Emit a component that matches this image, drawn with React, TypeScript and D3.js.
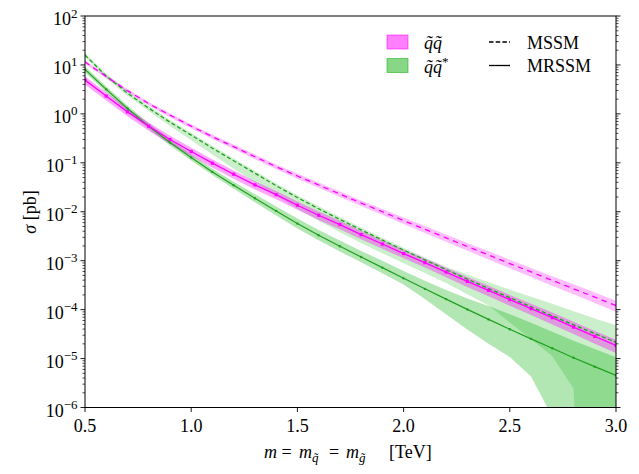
import * as d3 from 'd3';

// squark masses m = m_sq = m_gluino [TeV]
const masses = [0.5, 0.6, 0.7, 0.8, 0.9, 1.0, 1.1, 1.2, 1.3, 1.4, 1.5, 1.6, 1.7, 1.8, 1.9, 2.0, 2.1, 2.2, 2.3, 2.4, 2.5, 2.6, 2.7, 2.8, 2.9, 3.0];

// cross sections [pb]
const mssmSqSq = [11.5, 5.78, 2.99, 1.62, 0.943, 0.561, 0.342, 0.214, 0.133, 0.0833, 0.0538, 0.0352, 0.023, 0.0151, 0.01, 0.00661, 0.00439, 0.00292, 0.00195, 0.00131, 8.75e-4, 5.89e-4, 3.96e-4, 2.67e-4, 1.8e-4, 1.21e-4];
const mrssmSqSq = [4.9, 2.31, 1.1, 0.561, 0.3, 0.17, 0.0983, 0.0585, 0.0353, 0.0223, 0.0136, 0.00848, 0.00547, 0.00341, 0.00219, 0.0014, 9.14e-4, 5.86e-4, 3.78e-4, 2.48e-4, 1.6e-4, 1.05e-4, 6.84e-5, 4.4e-5, 2.84e-5, 1.86e-5];
const mssmSqSqbar = [15.9, 5.92, 2.66, 1.31, 0.678, 0.368, 0.199, 0.11, 0.0613, 0.034, 0.0195, 0.0115, 0.00696, 0.00426, 0.00264, 0.00165, 0.00104, 6.57e-4, 4.2e-4, 2.7e-4, 1.75e-4, 1.14e-4, 7.45e-5, 4.9e-5, 3.24e-5, 2.15e-5];
const mrssmSqSqbar = [8.12, 3.16, 1.29, 0.561, 0.261, 0.128, 0.0652, 0.0349, 0.0189, 0.0104, 0.00573, 0.0033, 0.00197, 0.00119, 7.21e-4, 4.36e-4, 2.66e-4, 1.64e-4, 1.01e-4, 6.31e-5, 3.98e-5, 2.53e-5, 1.62e-5, 1.04e-5, 6.84e-6, 4.52e-6];

// relative uncertainties [%]
const mssmSqSqErr = [8, 8, 8, 8, 9, 9, 10, 10, 11, 11, 12, 12, 13, 13, 14, 15, 16, 17, 18, 19, 20, 21, 22, 23, 24, 25];
const mrssmSqSqErr = [19, 19, 19, 19, 19, 19, 19, 19, 19, 19, 19, 20, 20, 20, 20, 20, 21, 22, 23, 24, 25, 26, 27, 28, 29, 30];
const mssmSqSqbarUp = [10, 10, 10, 10, 10, 10, 11, 11, 11, 11, 11, 12, 12, 12, 12, 12, 12, 15, 24, 34, 46, 60, 76, 89, 103, 123];
const mssmSqSqbarDown = [9, 10, 12, 13, 17, 21, 26, 31, 35, 38, 41, 43, 45, 46, 46, 46, 46, 47, 51, 55, 69, 78, 85, 95, 100, 100];
const mrssmSqSqbarUp = [15, 15, 15, 15, 15, 15, 16, 18, 20, 23, 27, 29, 31, 33, 38, 42, 46, 53, 68, 89, 103, 113, 118, 123, 128, 134];
const mrssmSqSqbarDown = [13, 13, 13, 13, 13, 13, 14, 15, 17, 19, 21, 21, 22, 22, 23, 25, 38, 51, 61, 68, 73, 83, 96, 100, 100, 100];

const xTicks = [0.5, 1.0, 1.5, 2.0, 2.5, 3.0];
const yExponents = [-6, -5, -4, -3, -2, -1, 0, 1, 2];

const width = 639;
const height = 474;
const plot = { left: 85, right: 616, top: 16, bottom: 407.5 };
const MAGENTA = '#ff00ff';
const GREEN_LINE = '#1fa01f';
const GREEN_FILL = '#10b010';
const FONT = '"Liberation Serif", "DejaVu Serif", serif';
const TILDE = '\u0303';

const App = () => {
  const x = d3.scaleLinear().domain([0.5, 3.0]).range([plot.left, plot.right]);
  const y = d3.scaleLog().domain([1e-6, 1e2]).range([plot.bottom, plot.top]);
  // zero lower edges go far below the axis
  const floor = (v: number) => Math.max(v, 1e-15);

  const band = (central: number[], up: number[], down: number[]) =>
    d3
      .area<number>()
      .x((_, i) => x(masses[i]))
      .y0((c, i) => y(floor(c * (1 - down[i] / 100))))
      .y1((c, i) => y(c * (1 + up[i] / 100)))(central) || '';

  const line = (vals: number[]) =>
    d3
      .line<number>()
      .x((_, i) => x(masses[i]))
      .y((v) => y(v))(vals) || '';

  const minorTicks: number[] = [];
  yExponents.slice(0, -1).forEach((e) => {
    for (let k = 2; k <= 9; k++) minorTicks.push(k * Math.pow(10, e));
  });

  return (
    <svg
      width={width}
      height={height}
      style={{ position: 'absolute', left: 0, top: 0, background: '#fff' }}
      fontFamily={FONT}
    >
      <defs>
        <clipPath id="plot-clip">
          <rect x={plot.left} y={plot.top} width={plot.right - plot.left} height={plot.bottom - plot.top} />
        </clipPath>
      </defs>

      <g clipPath="url(#plot-clip)">
        {/* uncertainty bands */}
        <path d={band(mssmSqSqbar, mssmSqSqbarUp, mssmSqSqbarDown)} fill={GREEN_FILL} fillOpacity={0.22} />
        <path d={band(mrssmSqSqbar, mrssmSqSqbarUp, mrssmSqSqbarDown)} fill={GREEN_FILL} fillOpacity={0.32} />
        <path d={band(mssmSqSq, mssmSqSqErr, mssmSqSqErr)} fill={MAGENTA} fillOpacity={0.25} />
        <path d={band(mrssmSqSq, mrssmSqSqErr, mrssmSqSqErr)} fill={MAGENTA} fillOpacity={0.35} />

        {/* central values */}
        <path d={line(mrssmSqSqbar)} fill="none" stroke={GREEN_LINE} strokeWidth={1.2} />
        <path d={line(mrssmSqSq)} fill="none" stroke={MAGENTA} strokeWidth={1.3} />
        <path d={line(mssmSqSqbar)} fill="none" stroke={GREEN_LINE} strokeWidth={1.3} strokeDasharray="4,2.5" />
        <path d={line(mssmSqSq)} fill="none" stroke={MAGENTA} strokeWidth={1.3} strokeDasharray="5.5,4.5" />

        {mrssmSqSqbar.map((v, i) => (
          <circle key={`g${i}`} cx={x(masses[i])} cy={y(v)} r={1.2} fill={GREEN_LINE} />
        ))}
        {mrssmSqSq.map((v, i) => (
          <rect key={`m${i}`} x={x(masses[i]) - 1.6} y={y(v) - 1.6} width={3.2} height={3.2} fill={MAGENTA} />
        ))}
      </g>

      {/* y ticks, both sides */}
      {yExponents.map((e) => {
        const yy = y(Math.pow(10, e));
        return (
          <g key={`ye${e}`}>
            <line x1={plot.left - 4.5} x2={plot.left} y1={yy} y2={yy} stroke="#000" strokeWidth={0.9} />
            <line x1={plot.right} x2={plot.right + 4.5} y1={yy} y2={yy} stroke="#000" strokeWidth={0.9} />
            <text x={plot.left - 7.5} y={yy + 9} textAnchor="end" fontSize={18}>
              10
              <tspan dy={-7.5} fontSize={13}>
                {e < 0 ? `\u2212${-e}` : `${e}`}
              </tspan>
            </text>
          </g>
        );
      })}
      {minorTicks.map((v, i) => {
        const yy = y(v);
        return (
          <g key={`ym${i}`}>
            <line x1={plot.left - 2.5} x2={plot.left} y1={yy} y2={yy} stroke="#000" strokeWidth={0.7} />
            <line x1={plot.right} x2={plot.right + 2.5} y1={yy} y2={yy} stroke="#000" strokeWidth={0.7} />
          </g>
        );
      })}

      {/* x ticks */}
      {xTicks.map((t) => (
        <g key={`x${t}`}>
          <line x1={x(t)} x2={x(t)} y1={plot.bottom} y2={plot.bottom + 4.5} stroke="#000" strokeWidth={0.9} />
          <text x={x(t)} y={432} textAnchor="middle" fontSize={18}>
            {t.toFixed(1)}
          </text>
        </g>
      ))}

      <rect
        x={plot.left}
        y={plot.top}
        width={plot.right - plot.left}
        height={plot.bottom - plot.top}
        fill="none"
        stroke="#000"
        strokeWidth={1}
      />

      {/* axis labels */}
      <text fontSize={18} y={458}>
        <tspan x={264} fontStyle="italic">m</tspan>
        <tspan x={281.5}>=</tspan>
        <tspan x={299} fontStyle="italic">m</tspan>
        <tspan x={312} dy={4} fontSize={13} fontStyle="italic">{`q${TILDE}`}</tspan>
        <tspan x={329} dy={-4}>=</tspan>
        <tspan x={346} fontStyle="italic">m</tspan>
        <tspan x={359} dy={4} fontSize={13} fontStyle="italic">{`g${TILDE}`}</tspan>
        <tspan x={389} dy={-4}>[TeV]</tspan>
      </text>
      <text fontSize={18} transform={`translate(36, 212) rotate(-90)`} textAnchor="middle">
        <tspan fontStyle="italic">σ</tspan> [pb]
      </text>

      {/* legend */}
      <rect x={387} y={35} width={21} height={14} fill={MAGENTA} fillOpacity={0.5} stroke={MAGENTA} strokeOpacity={0.55} />
      <rect x={387} y={58.5} width={21} height={14} fill={GREEN_FILL} fillOpacity={0.5} stroke={GREEN_FILL} strokeOpacity={0.55} />
      <text x={424} y={49} fontSize={18} fontStyle="italic">{`q${TILDE}q${TILDE}`}</text>
      <text x={424} y={72.5} fontSize={18} fontStyle="italic">
        {`q${TILDE}q${TILDE}`}
        <tspan dy={-7} fontSize={13} fontStyle="normal">*</tspan>
      </text>
      <line x1={489} x2={510} y1={42} y2={42} stroke="#000" strokeWidth={1.3} strokeDasharray="4.5,2.2" />
      <line x1={489} x2={510} y1={65.5} y2={65.5} stroke="#000" strokeWidth={1.3} />
      <text x={527} y={48.5} fontSize={18}>MSSM</text>
      <text x={527} y={72} fontSize={18}>MRSSM</text>
    </svg>
  );
};

export default App;
